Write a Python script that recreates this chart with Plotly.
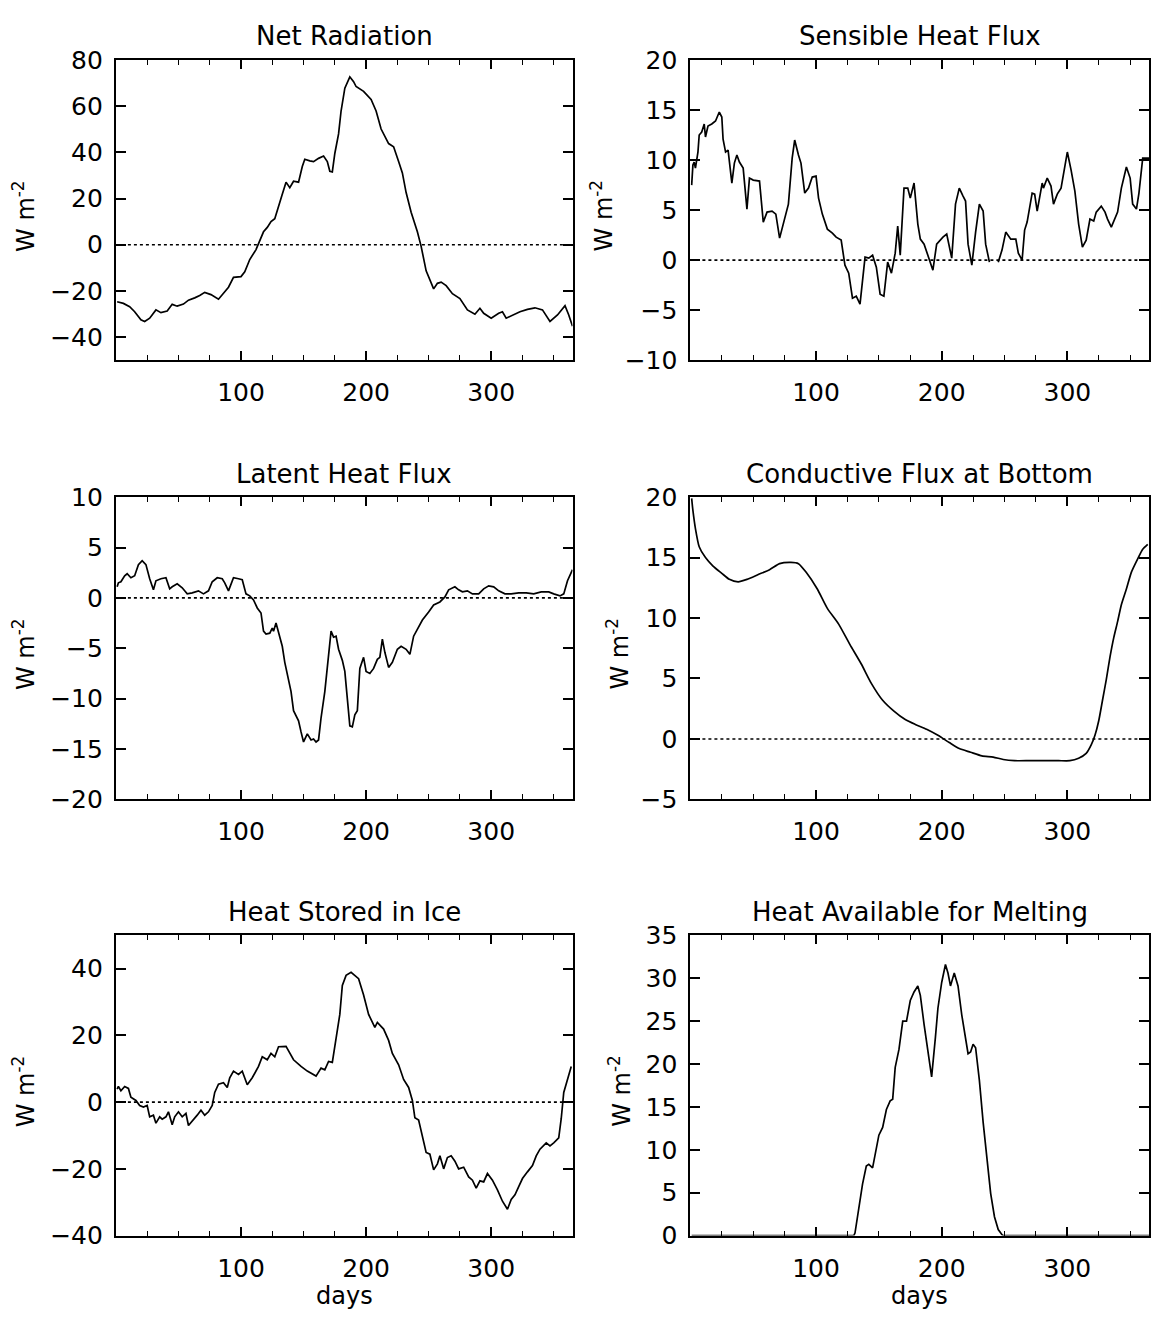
import plotly.graph_objects as go

# ---------------- data ----------------
NR_DAY = [1, 6, 11, 15, 20, 23, 27, 32, 36, 41,
          45, 49, 54, 58, 63, 67, 71, 76, 82, 87,
          90, 94, 100, 103, 107, 112, 115, 118, 121, 124,
          127, 131, 133, 136, 139, 142, 146, 149, 151, 155,
          158, 162, 166, 169, 171, 173, 175, 178, 180, 183,
          187, 190, 192, 198, 204, 208, 212, 218, 222, 226,
          229, 232, 236, 241, 244, 248, 251, 254, 257, 260,
          264, 269, 275, 281, 287, 291, 294, 300, 306, 309,
          312, 318, 323, 329, 335, 341, 347, 353, 359, 362, 365]
NR_VAL = [-24.7, -25.4, -26.8, -29, -32.5, -33.2, -31.8, -28.2, -29.4, -28.7,
          -25.8, -26.6, -25.7, -24, -23, -22, -20.6, -21.6, -23.6, -20.5,
          -18.4, -14.1, -13.8, -11.7, -6.4, -2.1, 1.4, 5.6, 7.5, 10,
          11.3, 19.1, 21.9, 27.1, 24.7, 27.5, 27.1, 33.9, 37, 36.3,
          36, 37.4, 38.4, 36, 31.8, 31.5, 39.5, 48, 57.9, 67.8,
          72.7, 70.6, 68.5, 66.4, 62.9, 57.9, 50.1, 43.8, 42.4, 36,
          31.1, 22.6, 14.1, 5.6, -0.7, -11.3, -15.5, -19.1, -16.7, -16.2,
          -17.7, -21.2, -23.3, -28.2, -30.1, -27.5, -29.7, -31.8, -29.7, -29,
          -31.8, -30.4, -29, -28, -27.3, -28.2, -33.2, -30.4, -26.4, -30.4, -35.3]

SH_DAY = [1, 2, 3, 4, 6, 7, 9, 11, 12, 14,
          17, 20, 23, 25, 26, 28, 30, 33, 35, 37,
          39, 42, 45, 47, 50, 55, 58, 61, 65, 68,
          71, 75, 78, 81, 83, 86, 88, 91, 94, 97,
          100, 102, 105, 109, 113, 116, 120, 123, 126, 129,
          132, 135, 139, 142, 145, 148, 151, 154, 157, 160,
          163, 165, 167, 170, 173, 175, 178, 181, 183, 186,
          189, 193, 196, 201, 204, 208, 211, 214, 217, 219,
          221, 224, 227, 230, 233, 235, 238, 240, 245, 248,
          251, 255, 259, 261, 264, 266, 268, 272, 274, 276,
          280, 281, 284, 287, 289, 292, 295, 300, 303, 306,
          309, 312, 315, 318, 321, 323, 327, 330, 332, 335,
          340, 343, 347, 350, 352, 355, 357, 360, 365]
SH_VAL = [7.5, 9.5, 9.8, 9.2, 10.8, 12.5, 12.8, 13.6, 12.3, 13.4,
          13.6, 13.9, 14.8, 14.3, 12.1, 10.8, 11, 7.7, 9.7, 10.5,
          9.8, 9.2, 5.1, 8.2, 8, 7.9, 3.8, 4.8, 4.9, 4.6,
          2.2, 4.1, 5.6, 10.2, 12, 10.5, 9.7, 6.7, 7.2, 8.3,
          8.4, 6.2, 4.6, 3.1, 2.7, 2.3, 2, -0.5, -1.3, -3.8,
          -3.6, -4.4, 0.3, 0.2, 0.5, -0.7, -3.4, -3.6, -0.2, -1.3,
          0.7, 3.4, 0.5, 7.2, 7.2, 6.2, 7.7, 3.6, 2.1, 1.6,
          0.5, -1, 1.6, 2.3, 2.6, 0.2, 5.6, 7.2, 6.4, 5.9,
          1.6, -0.5, 2.8, 5.6, 4.9, 1.6, -0.2, None, -0.2, 1,
          2.8, 2.1, 2.1, 0.7, 0, 3, 3.8, 6.7, 6.6, 4.9,
          7.7, 7.2, 8.2, 7.4, 5.6, 6.6, 7.2, 10.8, 9, 6.9,
          3.6, 1.3, 2, 4.1, 3.9, 4.8, 5.4, 4.8, 4.1, 3.3,
          4.8, 7.2, 9.3, 8.2, 5.6, 5.1, 6.7, 10.2, 10.2]

LH_DAY = [1, 2, 4, 7, 9, 12, 15, 18, 21, 24,
          27, 30, 32, 36, 40, 43, 45, 49, 53, 57,
          61, 66, 70, 74, 77, 81, 85, 87, 90, 92,
          94, 98, 101, 104, 107, 110, 113, 116, 118, 120,
          123, 125, 126, 128, 130, 133, 135, 137, 140, 142,
          146, 148, 150, 153, 156, 158, 160, 162, 164, 167,
          170, 172, 174, 176, 178, 181, 183, 185, 187, 189,
          191, 193, 195, 198, 200, 203, 206, 209, 211, 213,
          215, 218, 221, 225, 228, 232, 235, 238, 241, 245,
          250, 254, 259, 263, 266, 271, 274, 277, 281, 285,
          290, 294, 298, 302, 306, 311, 316, 322, 328, 334,
          340, 346, 350, 355, 358, 361, 365]
LH_VAL = [1.1, 1.5, 1.6, 2.2, 2.4, 2, 2.2, 3.3, 3.7, 3.3,
          1.9, 0.8, 1.7, 1.9, 2, 0.9, 1.1, 1.4, 1, 0.4,
          0.5, 0.7, 0.4, 0.7, 1.6, 2, 1.9, 1.5, 0.7, 1.3,
          2, 1.9, 1.8, 0.4, 0.2, -0.2, -1, -1.5, -3.3, -3.6,
          -3.5, -3, -3.3, -2.5, -3.5, -4.8, -6.4, -7.7, -9.3, -11.2,
          -12.2, -13.3, -14.3, -13.5, -14.1, -14, -14.3, -14.1, -11.9, -9.3,
          -5.4, -3.3, -3.9, -3.8, -5.1, -6.2, -7.3, -10.4, -12.7, -12.8,
          -11.6, -11.2, -7, -5.9, -7.3, -7.5, -7, -6.1, -5.9, -4.1,
          -5.4, -6.9, -6.4, -5.1, -4.8, -5.1, -5.6, -3.8, -3.1, -2.2,
          -1.4, -0.7, -0.4, 0.1, 0.8, 1.1, 0.8, 0.6, 0.7, 0.4,
          0.4, 0.9, 1.2, 1.1, 0.7, 0.4, 0.4, 0.5, 0.5, 0.4,
          0.6, 0.6, 0.4, 0.2, 0.4, 1.7, 2.8]

CF_DAY = [1, 2, 4, 7, 12, 18, 25, 31, 38, 45,
          54, 63, 71, 80, 86, 92, 101, 109, 118, 127,
          136, 144, 153, 162, 171, 179, 188, 197, 206, 214,
          223, 232, 241, 249, 258, 270, 281, 293, 302, 309,
          315, 319, 322, 325, 328, 331, 334, 337, 340, 343,
          347, 351, 356, 360, 364]
CF_VAL = [19.9, 18.9, 17.4, 15.9, 15, 14.3, 13.7, 13.2, 13, 13.2,
          13.6, 14, 14.5, 14.6, 14.5, 13.8, 12.4, 10.8, 9.5, 7.8,
          6.2, 4.6, 3.2, 2.3, 1.6, 1.2, 0.8, 0.3, -0.3, -0.8,
          -1.1, -1.4, -1.5, -1.7, -1.8, -1.8, -1.8, -1.8, -1.8, -1.6,
          -1.2, -0.5, 0.3, 1.5, 3.2, 4.9, 6.8, 8.4, 9.7, 11.1,
          12.4, 13.8, 14.9, 15.7, 16.1]

HS_DAY = [1, 2, 4, 7, 10, 12, 16, 19, 22, 25,
          27, 30, 32, 35, 37, 40, 42, 45, 47, 50,
          53, 56, 58, 62, 65, 68, 71, 74, 77, 79,
          82, 86, 89, 91, 94, 98, 101, 105, 109, 114,
          117, 121, 124, 127, 130, 136, 142, 148, 153, 160,
          164, 167, 170, 173, 176, 179, 181, 184, 188, 191,
          194, 198, 202, 207, 209, 214, 218, 221, 226, 230,
          234, 237, 239, 242, 245, 248, 251, 254, 257, 259,
          262, 265, 268, 271, 274, 278, 282, 285, 288, 291,
          294, 297, 301, 305, 309, 313, 316, 319, 322, 325,
          329, 333, 336, 339, 344, 347, 350, 354, 356, 358,
          361, 364]
HS_VAL = [3.9, 4.7, 3.4, 4.7, 4.1, 1.5, 0.5, -1, -1.5, -1,
          -4.4, -3.9, -6.3, -4.4, -5.1, -4.4, -2.9, -6.8, -4.4, -2.9,
          -4.4, -3.4, -7, -5.4, -3.9, -2.4, -3.9, -2.9, -1, 2.9,
          5.4, 5.8, 4.4, 7.3, 9.3, 8.3, 9.3, 5.2, 7.3, 10.7,
          13.6, 12.7, 14.6, 13.6, 16.6, 16.7, 12.7, 10.7, 9.3, 7.8,
          10.2, 9.7, 12.2, 11.9, 19.5, 26.3, 35, 38, 38.9, 38,
          37, 32.1, 26.3, 22.4, 23.9, 21.9, 18.5, 14.6, 11.2, 6.8,
          4.4, 0.5, -4.7, -5.4, -10.7, -15.1, -15.6, -20.3, -18.5, -16.1,
          -20, -16.6, -16.1, -17.7, -20, -19.5, -22.4, -23.4, -25.8, -23.6,
          -23.9, -21.4, -23.4, -26.3, -29.7, -32.1, -29.2, -27.8, -25.3, -22.9,
          -20.9, -19, -16.1, -14.1, -12.2, -13.1, -12.2, -10.7, -4.9, 2.9,
          6.8, 10.7]

HM_DAY = [1, 130, 131, 134, 137, 140, 142, 145, 147, 150,
          153, 156, 159, 161, 163, 166, 169, 172, 175, 178,
          181, 183, 186, 189, 192, 195, 197, 200, 203, 205,
          207, 210, 213, 216, 219, 221, 223, 225, 227, 230,
          233, 236, 239, 242, 245, 248, 249, 365]
HM_VAL = [0, 0, 0.3, 3, 6, 8.1, 8.3, 7.9, 9.4, 11.7,
          12.6, 14.7, 15.7, 15.9, 19.6, 21.7, 25, 25, 27.4, 28.4,
          29.1, 28, 24.6, 21.5, 18.5, 23.1, 26.5, 29.5, 31.6, 30.6,
          29.1, 30.6, 29.1, 25.7, 22.7, 21.2, 21.4, 22.3, 21.9, 18.1,
          13.2, 8.6, 4.9, 2.2, 0.7, 0.1, 0, 0]

TITLES = ["Net Radiation", "Sensible Heat Flux", "Latent Heat Flux",
          "Conductive Flux at Bottom", "Heat Stored in Ice", "Heat Available for Melting"]
Y_RANGES = [[-50, 80], [-10, 20], [-20, 10], [-5, 20], [-40, 50], [0, 35]]
Y_TICKS = [[-40, -20, 0, 20, 40, 60, 80],
           [-10, -5, 0, 5, 10, 15, 20],
           [-20, -15, -10, -5, 0, 5, 10],
           [-5, 0, 5, 10, 15, 20],
           [-40, -20, 0, 20, 40],
           [0, 5, 10, 15, 20, 25, 30, 35]]
X_RANGE = [0, 365]
X_TICKS = [100, 200, 300]
ZERO_X = [0, 365]
ZERO_Y = [0, 0]
SHOW_ZERO = [True, True, True, True, True, False]
Y_LABEL = "W m<sup>-2</sup>"
X_LABEL = "days"

SERIES = [(NR_DAY, NR_VAL), (SH_DAY, SH_VAL), (LH_DAY, LH_VAL),
          (CF_DAY, CF_VAL), (HS_DAY, HS_VAL), (HM_DAY, HM_VAL)]

# ---------------- layout geometry (pixels) ----------------
W, H = 1151, 1321
COLS = [(116, 573), (691, 1150)]
ROWS = [(47, 354), (494, 803), (942, 1249)]
TITLE_Y = [22, 470, 918]
YLAB_X = [24, 602, 24, 619, 24, 621]
FONT = "DejaVu Sans"

fig = go.Figure()
layout = dict(width=W, height=H, margin=dict(l=0, r=0, t=0, b=0),
              paper_bgcolor="white", plot_bgcolor="white", showlegend=False,
              font=dict(family=FONT, color="black", size=24), hovermode=False)
annotations = []

for i in range(6):
    r, c = divmod(i, 2)
    x0, x1 = COLS[c]
    ytop, ybot = ROWS[r]
    sfx = "" if i == 0 else str(i + 1)
    xa, ya = "x" + sfx, "y" + sfx
    days, vals = SERIES[i]
    if SHOW_ZERO[i]:
        fig.add_trace(go.Scatter(x=ZERO_X, y=ZERO_Y, mode="lines", xaxis=xa, yaxis=ya,
                                 line=dict(color="black", width=1.6, dash="dot")))
    fig.add_trace(go.Scatter(x=days, y=vals, mode="lines", xaxis=xa, yaxis=ya,
                             connectgaps=False,
                             line=dict(color="black", width=1.7,
                                       shape="spline" if i == 3 else "linear",
                                       smoothing=0.6)))
    layout["xaxis" + sfx] = dict(
        domain=[x0 / W, x1 / W], anchor=ya, range=X_RANGE,
        tickmode="array", tickvals=X_TICKS, ticks="inside", ticklen=9, tickwidth=1.5,
        tickcolor="black", showline=True, linewidth=2, linecolor="black",
        mirror="ticks", showgrid=False, zeroline=False,
        tickfont=dict(size=25, family=FONT), ticklabelstandoff=9,
        minor=dict(dtick=25, tick0=0, ticks="inside", ticklen=5, tickwidth=1.2,
                   tickcolor="black", showgrid=False),
        fixedrange=True)
    layout["yaxis" + sfx] = dict(
        domain=[1 - ybot / H, 1 - ytop / H], anchor=xa, range=Y_RANGES[i],
        tickmode="array", tickvals=Y_TICKS[i], ticks="inside", ticklen=10, tickwidth=1.5,
        tickcolor="black", showline=True, linewidth=2, linecolor="black",
        mirror="ticks", showgrid=False, zeroline=False,
        tickfont=dict(size=25, family=FONT), ticklabelstandoff=6,
        fixedrange=True)
    cx = (x0 + x1) / 2 / W
    annotations.append(dict(text=TITLES[i], x=cx, y=1 - TITLE_Y[r] / H, xref="paper", yref="paper",
                            xanchor="center", yanchor="middle", showarrow=False,
                            font=dict(size=26, family=FONT)))
    annotations.append(dict(text=Y_LABEL, x=YLAB_X[i] / W, y=1 - ((ytop + ybot) / 2 + 6) / H,
                            xref="paper", yref="paper", xanchor="center", yanchor="middle",
                            textangle=-90, showarrow=False, font=dict(size=24, family=FONT)))
    if r == 2:
        annotations.append(dict(text=X_LABEL, x=cx, y=1 - 1311 / H, xref="paper", yref="paper",
                                xanchor="center", yanchor="middle", showarrow=False,
                                font=dict(size=24, family=FONT)))

layout["annotations"] = annotations
fig.update_layout(**layout)
fig.write_html("out.html")
